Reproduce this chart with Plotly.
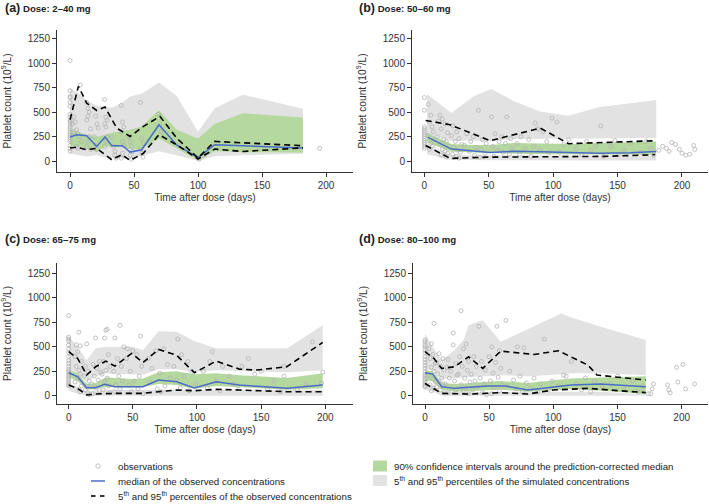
import plotly.graph_objects as go

W, H = 709, 504

# ---------------- DATA ----------------
x_ticks = [0, 50, 100, 150, 200]
y_ticks = [0, 250, 500, 750, 1000, 1250]
panel_titles = ["(a)", "(b)", "(c)", "(d)"]
panel_doses = ["Dose: 2–40 mg", "Dose: 50–60 mg", "Dose: 65–75 mg", "Dose: 80–100 mg"]

# Panel (a)
a_obs = [(0,1030),(0,660),(0,720),(0,650),(0,600),(0,560),(0,480),(0,450),(0,420),(0,400),(0,380),(0,350),
         (0,330),(0,300),(0,280),(0,260),(0,240),(0,220),(0,200),(0,160),(0,130),(0,100),
         (3,450),(4,400),(5,320),(6,280),(7,250),(8,780),(9,200),(2,380),(3,300),(5,150),(6,130),
         (13,600),(14,540),(15,500),(14,460),(13,420),(16,330),(15,250),(14,200),(13,150),(16,120),
         (20,460),(21,380),(22,340),(19,250),(20,160),(21,120),
         (27,630),(28,450),(29,420),(27,380),(28,350),(29,250),(28,200),(27,150),
         (33,240),(34,150),(35,100),(36,30),(35,60),
         (40,570),(41,400),(42,350),(40,300),(41,200),(42,160),(41,80),(40,30),
         (46,250),(47,200),(48,150),(49,100),(47,60),(48,20),
         (55,600),(56,230),(57,180),(55,120),(56,80),(57,40),
         (69,480),(70,370),(71,300),(85,160),(100,30),(101,20),(105,60),(195,130)]
a_band_t = [0, 6.5, 13, 20.8, 27.3, 32.6, 41, 46.9, 56, 69.5, 83.3, 100, 113, 135, 182]
a_sim_hi_top = [745, 700, 620, 570, 555, 545, 600, 660, 690, 805, 665, 300, 540, 680, 535]
a_sim_hi_bot = [160, 150, 130, 90, 150, 150, 140, 120, 120, 230, 130, 5, 100, 90, 85]
a_ci_top = [320, 300, 270, 250, 270, 290, 310, 320, 355, 520, 320, 230, 380, 490, 445]
a_ci_bot = [160, 150, 130, 90, 150, 150, 140, 120, 120, 230, 130, 5, 100, 90, 85]
a_sim_lo_top = [160, 150, 130, 90, 150, 150, 140, 120, 120, 230, 130, 5, 100, 90, 85]
a_sim_lo_bot = [80, 60, 50, 60, 40, 30, 30, 20, 50, 100, 60, 0, 50, 60, 75]
a_med_t = [0, 5.2, 13, 20.8, 27.3, 32.6, 41, 46.9, 56, 69.5, 83.3, 100, 113, 182]
a_med_v = [246, 270, 259, 150, 246, 157, 157, 92, 116, 372, 165, 35, 167, 133]
a_p95_t = [0, 6.5, 13, 20.8, 27.3, 36.5, 46.9, 57.3, 70.3, 83.3, 100, 113, 182]
a_p95_v = [423, 765, 594, 518, 553, 338, 252, 355, 457, 236, 31, 201, 157]
a_p05_t = [0, 5.2, 13, 20.8, 32.6, 40.4, 46.9, 57.3, 69.5, 83.3, 100, 113, 135, 182]
a_p05_v = [133, 143, 116, 130, 13, 65, 6, 80, 270, 167, 21, 123, 98, 135]

# Panel (b)
b_obs = [(0,650),(0,520),(0,350),(0,330),(0,310),(0,290),(0,270),(0,250),(0,230),(0,210),(0,190),(0,170),(0,150),(0,130),
         (3,580),(5,470),(4,400),(6,350),(7,300),(3,260),(8,220),(5,180),(6,150),(4,120),
         (12,470),(14,430),(11,410),(16,380),(13,330),(18,290),(10,250),(15,220),(17,200),(12,180),(19,150),(14,120),
         (16,100),(18,80),(13,60),(17,40),
         (22,360),(25,300),(21,260),(27,230),(24,200),(29,170),(23,140),(26,110),(28,90),(22,70),(25,50),(27,30),
         (42,520),(33,280),(38,250),(45,220),(36,200),(48,180),(31,160),(40,140),(44,120),(35,100),(47,80),(39,60),(43,40),
         (52,450),(64,450),(55,280),(60,250),(67,230),(58,200),(63,180),(53,150),(68,130),(57,110),(61,90),(66,70),(54,50),
         (86,390),(99,440),(103,400),(88,330),(92,300),(75,250),(81,220),(95,200),(72,180),(85,150),(78,130),(90,110),
         (97,90),(74,70),(83,50),
         (137,360),(112,220),(126,200),(108,170),(133,150),(118,130),(129,110),(105,90),(122,70),(139,50),
         (148,210),(172,200),(160,180),(145,150),(176,130),(155,110),(168,90),(151,70),(178,60),
         (185,150),(188,130),(182,110),(192,190),(195,170),(198,120),(190,100),(200,80),(203,60),(209,160),(210,120),(206,70)]
b_band_t = [2, 21, 38, 52, 70, 90, 112, 135, 180]
b_sim_hi_top = [686, 491, 662, 737, 610, 508, 464, 550, 625]
b_sim_hi_bot = [280, 205, 210, 205, 225, 230, 228, 232, 235]
b_ci_top = [290, 175, 165, 165, 185, 180, 175, 185, 200]
b_ci_bot = [190, 95, 85, 80, 75, 70, 70, 65, 65]
b_sim_lo_top = [175, 65, 60, 60, 58, 55, 55, 55, 55]
b_sim_lo_bot = [70, 10, 5, 5, 5, 5, 5, 5, 5]
b_med_t = [2.8, 21, 51, 70, 90, 113, 135, 160, 180]
b_med_v = [242, 123, 88, 100, 95, 85, 80, 85, 99]
b_p95_t = [1, 20, 51, 90, 112, 179]
b_p95_v = [416, 372, 208, 338, 178, 208]
b_p05_t = [1, 20, 49, 100, 140, 179]
b_p05_v = [160, 27, 40, 45, 48, 65]

# Panel (c)
c_obs = [(0,820),(0,600),(0,580),(0,560),(0,520),(0,480),(0,440),(0,400),(0,360),(0,330),(0,300),(0,270),(0,250),
         (0,230),(0,210),(0,190),(0,170),(0,150),(0,130),(0,110),(0,100),
         (8,650),(6,520),(9,510),(7,450),(5,400),(10,350),(6,300),(8,260),(9,220),(7,180),(5,140),(10,100),(8,70),(9,40),
         (14,530),(13,300),(15,250),(12,200),(16,150),(14,100),(13,60),(15,30),(16,10),
         (21,590),(24,350),(19,320),(22,280),(25,240),(20,200),(23,160),(18,120),(21,80),(24,50),(19,20),
         (29,670),(30,680),(28,590),(31,420),(27,350),(32,300),(29,260),(26,220),(30,180),(28,140),(31,100),(27,60),(32,30),
         (40,720),(36,590),(43,500),(38,380),(41,300),(35,250),(39,200),(42,150),(37,110),(40,70),(36,40),
         (56,610),(46,480),(50,460),(53,420),(45,380),(57,300),(48,250),(55,200),(51,150),(47,110),(54,70),(49,40),(58,20),
         (68,460),(74,480),(62,380),(77,320),(65,280),(71,230),(79,180),(63,140),(75,100),(69,70),(72,40),
         (85,580),(88,420),(93,350),(82,300),(96,250),(90,200),(84,160),(99,120),(87,80),(94,50),
         (112,450),(110,350),(120,300),(105,250),(125,200),(115,150),(128,120),(108,80),(118,50),
         (140,380),(135,300),(150,250),(145,220),(160,150),(132,100),(155,70),(165,40),(168,200),(168,300),
         (190,550),(198,240),(197,130),(185,120),(178,60)]
c_band_t = [0, 7, 14, 21, 29, 36, 50, 58, 70, 84, 98, 115, 133, 170, 198]
c_sim_hi_top = [603, 500, 364, 484, 500, 500, 500, 466, 660, 654, 560, 483, 483, 483, 722]
c_sim_hi_bot = [250, 220, 140, 200, 230, 220, 220, 215, 270, 270, 240, 260, 250, 240, 260]
c_ci_top = [260, 230, 120, 130, 190, 180, 170, 175, 240, 250, 220, 230, 210, 180, 230]
c_ci_bot = [190, 150, 60, 70, 90, 85, 85, 90, 120, 110, 70, 100, 85, 60, 75]
c_sim_lo_top = [130, 90, 40, 50, 60, 60, 60, 60, 60, 60, 60, 60, 60, 60, 60]
c_sim_lo_bot = [50, 20, 0, 0, 0, 0, 0, 0, 0, 0, 0, 0, 0, 0, 0]
c_med_t = [0, 7, 14, 21, 28, 36, 50, 58, 70, 84, 98, 115, 133, 170, 198]
c_med_v = [235, 194, 82, 82, 116, 92, 92, 92, 160, 143, 78, 143, 109, 75, 109]
c_p95_t = [0, 7, 14, 21, 29, 36, 49, 58, 70, 84, 98, 115, 133, 146, 170, 198]
c_p95_v = [450, 381, 211, 296, 354, 303, 432, 340, 473, 415, 235, 354, 272, 262, 296, 545]
c_p05_t = [0, 7, 14, 21, 36, 58, 70, 84, 98, 115, 133, 170, 198]
c_p05_v = [109, 75, 7, 17, 24, 24, 41, 58, 51, 65, 58, 41, 41]

# Panel (d)
d_obs = [(0,570),(0,550),(0,520),(0,500),(0,470),(0,440),(0,400),(0,370),(0,340),(0,310),(0,280),(0,250),(0,220),
         (0,200),(0,180),(0,160),(0,140),(0,120),(0,100),(0,90),
         (7,740),(5,530),(3,480),(6,420),(4,380),(8,330),(5,290),(7,250),(3,210),(6,170),(8,140),(4,110),(7,80),(5,50),
         (11,430),(14,380),(9,340),(12,300),(15,260),(10,220),(13,180),(11,150),(14,120),(9,90),(12,60),(15,30),
         (22,640),(22,520),(18,370),(24,330),(17,290),(20,250),(25,210),(19,180),(23,150),(16,120),(21,90),(24,60),(18,30),
         (28,870),(32,530),(30,480),(27,400),(34,350),(29,300),(33,260),(26,220),(31,180),(35,140),(28,110),(32,80),(30,50),(34,20),
         (42,710),(38,400),(44,350),(40,300),(47,260),(36,220),(43,180),(39,150),(46,120),(41,90),(37,60),(45,30),(48,10),
         (56,710),(63,770),(52,500),(58,460),(50,400),(55,340),(59,280),(53,230),(57,190),(51,150),(60,110),(54,80),(58,50),(52,20),
         (72,500),(77,490),(66,250),(74,200),(69,160),(79,130),(64,100),(71,70),(76,40),
         (93,580),(85,180),(99,150),(90,120),(104,100),(82,80),(96,60),(88,40),(108,210),(110,200),
         (114,350),(125,180),(132,150),(118,120),(138,90),(122,60),(129,40),
         (150,200),(162,150),(145,120),(170,100),(155,70),(166,40),(174,20),
         (178,120),(177,70),(176,20),(189,110),(190,60),(191,30),(196,290),(197,140),(201,320),(203,70),(210,120)]
d_band_t = [0, 6, 13, 23, 30, 34, 45, 59, 80, 106, 114, 137, 172]
d_sim_hi_top = [637, 500, 364, 466, 569, 722, 773, 552, 680, 841, 800, 705, 569]
d_sim_hi_bot = [270, 260, 170, 180, 190, 195, 200, 210, 200, 220, 230, 230, 210]
d_ci_top = [260, 250, 130, 120, 125, 130, 140, 150, 130, 165, 175, 185, 200]
d_ci_bot = [150, 150, 60, 40, 45, 45, 50, 60, 40, 60, 70, 50, 20]
d_sim_lo_top = [120, 100, 40, 40, 40, 40, 40, 40, 40, 40, 40, 40, 15]
d_sim_lo_bot = [60, 40, 0, 0, 0, 0, 0, 0, 0, 0, 0, 0, 0]
d_med_t = [0, 6, 13, 23, 49, 63, 80, 100, 114, 137, 172]
d_med_v = [235, 221, 92, 75, 99, 99, 58, 92, 109, 119, 92]
d_p95_t = [0, 7, 13, 23, 34, 45, 59, 85, 104, 127, 134, 172]
d_p95_v = [450, 381, 279, 296, 398, 279, 456, 422, 460, 313, 211, 160]
d_p05_t = [0, 13, 35, 59, 80, 100, 127, 172]
d_p05_v = [126, 24, 17, 31, 17, 58, 75, 31]

legend_labels = ["observations",
                 "median of the observed concentrations",
                 "5<sup>th</sup> and 95<sup>th</sup> percentiles of the observed concentrations",
                 "90% confidence intervals around the prediction-corrected median",
                 "5<sup>th</sup> and 95<sup>th</sup> percentiles of the simulated concentrations"]

# ---------------- STYLE ----------------
FONT = "Liberation Sans, Arial, sans-serif"
GRAY_FILL = "#e2e2e2"
GREEN_FILL = "#b5d89e"
BLUE = "#4a6cc8"
PT = "#b2b2b2"
AX = "#333333"

# geometry in pixels: (left, right, top, bottom), x range, y range
geom = [
    (57, 353, 30, 172, [-10.2, 221.1], [-112, 1342]),
    (412, 708, 30, 172, [-9.6, 220.2], [-112, 1342]),
    (57, 353, 263, 404, [-9.1, 221.6], [-85, 1358]),
    (413, 708, 263, 404, [-9.35, 220.5], [-85, 1358]),
]

panels = [
    (a_obs, a_band_t, a_sim_hi_top, a_sim_hi_bot, a_ci_top, a_ci_bot, a_sim_lo_top, a_sim_lo_bot,
     a_med_t, a_med_v, a_p95_t, a_p95_v, a_p05_t, a_p05_v),
    (b_obs, b_band_t, b_sim_hi_top, b_sim_hi_bot, b_ci_top, b_ci_bot, b_sim_lo_top, b_sim_lo_bot,
     b_med_t, b_med_v, b_p95_t, b_p95_v, b_p05_t, b_p05_v),
    (c_obs, c_band_t, c_sim_hi_top, c_sim_hi_bot, c_ci_top, c_ci_bot, c_sim_lo_top, c_sim_lo_bot,
     c_med_t, c_med_v, c_p95_t, c_p95_v, c_p05_t, c_p05_v),
    (d_obs, d_band_t, d_sim_hi_top, d_sim_hi_bot, d_ci_top, d_ci_bot, d_sim_lo_top, d_sim_lo_bot,
     d_med_t, d_med_v, d_p95_t, d_p95_v, d_p05_t, d_p05_v),
]


def fx(px):
    return px / W


def fy(py):
    return 1 - py / H


fig = go.Figure()
layout = dict(
    width=W, height=H, margin=dict(l=0, r=0, t=0, b=0),
    paper_bgcolor="white", plot_bgcolor="white", showlegend=False,
    font=dict(family=FONT, size=10, color=AX),
)
annotations = []
shapes = []


def band(t, top, bot, color, xa, ya):
    return go.Scatter(x=list(t) + list(t)[::-1], y=list(top) + list(bot)[::-1],
                      fill="toself", fillcolor=color, line=dict(width=0), mode="lines",
                      hoverinfo="skip", xaxis=xa, yaxis=ya)


for i, (p, g) in enumerate(zip(panels, geom)):
    (obs, bt, shi_t, shi_b, ci_t, ci_b, slo_t, slo_b, mt, mv, p95t, p95v, p05t, p05v) = p
    left, right, top, bottom, xr, yr = g
    n = "" if i == 0 else str(i + 1)
    xa, ya = "x" + n, "y" + n
    layout["xaxis" + n] = dict(
        domain=[fx(left), fx(right)], range=xr, anchor=ya, tickvals=x_ticks,
        showline=True, linecolor=AX, linewidth=1, ticks="outside", ticklen=4, tickcolor=AX,
        showgrid=False, zeroline=False, tickfont=dict(size=10, color=AX, family=FONT),
        title=dict(text="Time after dose (days)", font=dict(size=10.2, color=AX, family=FONT), standoff=3),
    )
    layout["yaxis" + n] = dict(
        domain=[fy(bottom), fy(top)], range=yr, anchor=xa, tickvals=y_ticks,
        showline=True, linecolor=AX, linewidth=1, ticks="outside", ticklen=4, tickcolor=AX,
        showgrid=False, zeroline=False, tickfont=dict(size=10, color=AX, family=FONT),
        title=dict(text="Platelet count (10<sup>9</sup>/L)", font=dict(size=10.2, color=AX, family=FONT), standoff=14),
    )
    fig.add_trace(band(bt, shi_t, shi_b, GRAY_FILL, xa, ya))
    fig.add_trace(band(bt, slo_t, slo_b, GRAY_FILL, xa, ya))
    fig.add_trace(band(bt, ci_t, ci_b, GREEN_FILL, xa, ya))
    fig.add_trace(go.Scatter(x=[o[0] for o in obs], y=[o[1] for o in obs], mode="markers",
                             marker=dict(symbol="circle-open", size=4, color=PT, line=dict(width=0.8, color=PT)),
                             hoverinfo="skip", xaxis=xa, yaxis=ya))
    fig.add_trace(go.Scatter(x=mt, y=mv, mode="lines", line=dict(color=BLUE, width=1.5),
                             xaxis=xa, yaxis=ya))
    for tt, vv in ((p95t, p95v), (p05t, p05v)):
        fig.add_trace(go.Scatter(x=tt, y=vv, mode="lines",
                                 line=dict(color="black", width=1.6, dash="6px,4px"),
                                 xaxis=xa, yaxis=ya))
    # panel title
    tx = 3 if left < 300 else 357
    ty = 8 if top < 100 else 239
    annotations.append(dict(
        x=fx(tx), y=fy(ty), xref="paper", yref="paper", xanchor="left", yanchor="middle",
        showarrow=False, font=dict(size=9.6, color="#222", family=FONT),
        text="<b><span style='font-size:12.5px'>%s</span> %s</b>" % (panel_titles[i], panel_doses[i])))

# ---------------- legend (drawn) ----------------
rows = [466, 481, 496]
sym_x = 98
txt_x = 116
shapes.append(dict(type="circle", xref="paper", yref="paper",
                   x0=fx(sym_x - 2.2), x1=fx(sym_x + 2.2), y0=fy(rows[0] + 2.2), y1=fy(rows[0] - 2.2),
                   line=dict(color=PT, width=0.8)))
shapes.append(dict(type="line", xref="paper", yref="paper",
                   x0=fx(sym_x - 7), x1=fx(sym_x + 7), y0=fy(rows[1]), y1=fy(rows[1]),
                   line=dict(color=BLUE, width=1.5)))
for sx in (sym_x - 7, sym_x + 2):
    shapes.append(dict(type="line", xref="paper", yref="paper",
                       x0=fx(sx), x1=fx(sx + 4.5), y0=fy(rows[2]), y1=fy(rows[2]),
                       line=dict(color="black", width=1.6)))
for r, lab in zip(rows, legend_labels[:3]):
    annotations.append(dict(x=fx(txt_x), y=fy(r), xref="paper", yref="paper", xanchor="left",
                            yanchor="middle", showarrow=False, text=lab,
                            font=dict(size=9.7, color="#222", family=FONT)))
sq_x0, sq_x1 = 373, 387
for r, col, lab in ((rows[0], GREEN_FILL, legend_labels[3]), (rows[1] - 0.5, GRAY_FILL, legend_labels[4])):
    shapes.append(dict(type="rect", xref="paper", yref="paper",
                       x0=fx(sq_x0), x1=fx(sq_x1), y0=fy(r + 5.5), y1=fy(r - 5.5),
                       fillcolor=col, line=dict(width=0)))
    annotations.append(dict(x=fx(392), y=fy(r), xref="paper", yref="paper", xanchor="left",
                            yanchor="middle", showarrow=False, text=lab,
                            font=dict(size=9.7, color="#222", family=FONT)))

layout["annotations"] = annotations
layout["shapes"] = shapes
fig.update_layout(**layout)
fig.write_html("out.html", config={"displayModeBar": False},
               post_script="document.body.style.margin='0';document.body.style.overflow='hidden';")
